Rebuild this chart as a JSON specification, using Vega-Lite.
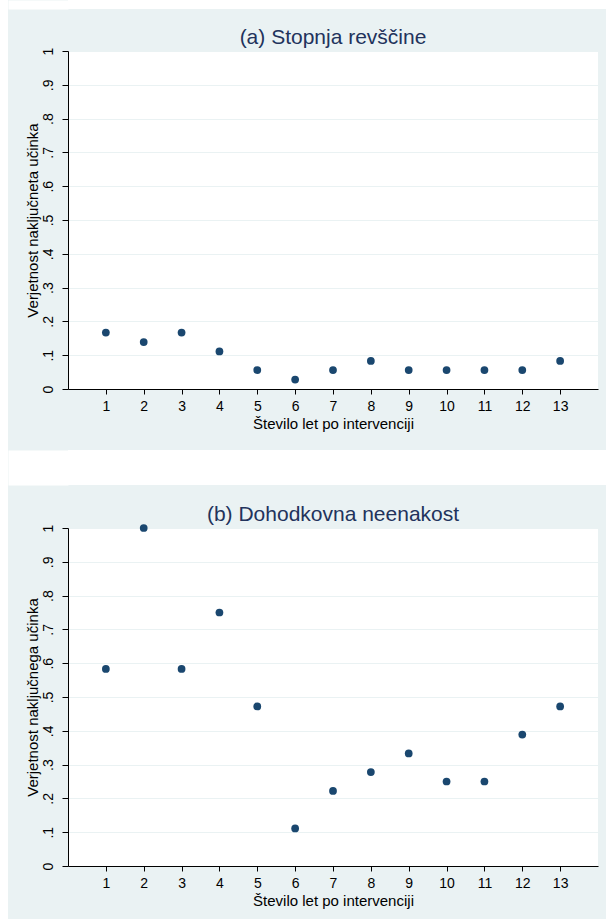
{
  "$schema": "https://vega.github.io/schema/vega-lite/v6.json",
  "background": "#EAF2F3",
  "padding": 0,
  "config": {
    "view": {"stroke": null},
    "concat": {"spacing": 0},
    "font": "Liberation Sans",
    "axis": {
      "labelFont": "Liberation Sans",
      "titleFont": "Liberation Sans",
      "titleFontWeight": "normal",
      "labelColor": "#000000",
      "titleColor": "#000000",
      "domainColor": "#000000",
      "tickColor": "#000000",
      "labelFlush": false,
      "labelOverlap": false
    }
  },
  "hconcat": [
    {
      "width": 8, "height": 930,
      "data": {"values": []},
      "mark": {"type": "point"},
      "encoding": {},
      "view": {"fill": "white", "stroke": null}
    },
    {
      "align": "none",
      "spacing": 0,
      "vconcat": [
        {"width": 538, "height": 9, "data": {"values": []}, "mark": {"type": "point"},
          "encoding": {"y": {"field": "v", "type": "quantitative", "scale": {"domain": [0, 1]}, "axis": {"title": null, "labels": false, "ticks": false, "grid": false, "domain": true, "domainColor": "white", "domainWidth": 60, "offset": 30}}},
          "view": {"fill": "white", "stroke": null}},
        {"width": 538, "height": 18, "data": {"values": []}, "mark": {"type": "point"}, "encoding": {}, "view": {"fill": null, "stroke": null}},
        {
          "width": 530, "height": 338,
          "title": {"text": "(a) Stopnja revščine", "fontSize": 21, "font": "Liberation Sans", "fontWeight": "normal", "color": "#22335c", "anchor": "middle", "frame": "group", "offset": -1},
          "data": {"values": [
            {"leto": 1, "p": 0.167}, {"leto": 2, "p": 0.139}, {"leto": 3, "p": 0.167},
            {"leto": 4, "p": 0.111}, {"leto": 5, "p": 0.056}, {"leto": 6, "p": 0.028},
            {"leto": 7, "p": 0.056}, {"leto": 8, "p": 0.083}, {"leto": 9, "p": 0.056},
            {"leto": 10, "p": 0.056}, {"leto": 11, "p": 0.056}, {"leto": 12, "p": 0.056},
            {"leto": 13, "p": 0.083}
          ]},
          "mark": {"type": "point", "filled": true, "size": 60, "color": "#1A476F", "opacity": 1},
          "encoding": {
            "x": {"field": "leto", "type": "quantitative", "scale": {"domain": [0, 14], "nice": false, "zero": false},
              "axis": {"title": "Število let po intervenciji", "values": [1,2,3,4,5,6,7,8,9,10,11,12,13], "grid": false, "tickSize": 5, "labelFontSize": 14, "labelPadding": 5, "titleFontSize": 15, "titlePadding": 3}},
            "y": {"field": "p", "type": "quantitative", "scale": {"domain": [0, 1], "nice": false},
              "axis": {"title": [" ", "Verjetnost naključneta učinka"], "titleLineHeight": 17, "values": [0,0.1,0.2,0.3,0.4,0.5,0.6,0.7,0.8,0.9,1], "grid": true, "gridColor": "#EAF2F3", "tickSize": 6, "labelAngle": 270, "labelAlign": "center", "labelBaseline": "bottom", "labelPadding": 7, "labelFontSize": 14, "titleFontSize": 15, "titlePadding": 1,
                "labelExpr": "datum.value == 0 ? '0' : datum.value == 1 ? '1' : substring(format(datum.value, '.1f'), 1)"}}
          },
          "view": {"fill": "white", "stroke": null}
        },
        {"width": 538, "height": 19, "data": {"values": []}, "mark": {"type": "point"}, "encoding": {}, "view": {"fill": null, "stroke": null}},
        {"width": 538, "height": 35, "data": {"values": []}, "mark": {"type": "point"},
          "encoding": {"y": {"field": "v", "type": "quantitative", "scale": {"domain": [0, 1]}, "axis": {"title": null, "labels": false, "ticks": false, "grid": false, "domain": true, "domainColor": "white", "domainWidth": 60, "offset": 30}}},
          "view": {"fill": "white", "stroke": null}},
        {"width": 538, "height": 19, "data": {"values": []}, "mark": {"type": "point"}, "encoding": {}, "view": {"fill": null, "stroke": null}},
        {
          "width": 530, "height": 338,
          "title": {"text": "(b) Dohodkovna neenakost", "fontSize": 21, "font": "Liberation Sans", "fontWeight": "normal", "color": "#22335c", "anchor": "middle", "frame": "group", "offset": -1},
          "data": {"values": [
            {"leto": 1, "p": 0.583}, {"leto": 2, "p": 1.0}, {"leto": 3, "p": 0.583},
            {"leto": 4, "p": 0.75}, {"leto": 5, "p": 0.472}, {"leto": 6, "p": 0.111},
            {"leto": 7, "p": 0.222}, {"leto": 8, "p": 0.278}, {"leto": 9, "p": 0.333},
            {"leto": 10, "p": 0.25}, {"leto": 11, "p": 0.25}, {"leto": 12, "p": 0.389},
            {"leto": 13, "p": 0.472}
          ]},
          "mark": {"type": "point", "filled": true, "size": 60, "color": "#1A476F", "opacity": 1},
          "encoding": {
            "x": {"field": "leto", "type": "quantitative", "scale": {"domain": [0, 14], "nice": false, "zero": false},
              "axis": {"title": "Število let po intervenciji", "values": [1,2,3,4,5,6,7,8,9,10,11,12,13], "grid": false, "tickSize": 5, "labelFontSize": 14, "labelPadding": 5, "titleFontSize": 15, "titlePadding": 3}},
            "y": {"field": "p", "type": "quantitative", "scale": {"domain": [0, 1], "nice": false},
              "axis": {"title": [" ", "Verjetnost naključnega učinka"], "titleLineHeight": 17, "values": [0,0.1,0.2,0.3,0.4,0.5,0.6,0.7,0.8,0.9,1], "grid": true, "gridColor": "#EAF2F3", "tickSize": 6, "labelAngle": 270, "labelAlign": "center", "labelBaseline": "bottom", "labelPadding": 7, "labelFontSize": 14, "titleFontSize": 15, "titlePadding": 1,
                "labelExpr": "datum.value == 0 ? '0' : datum.value == 1 ? '1' : substring(format(datum.value, '.1f'), 1)"}}
          },
          "view": {"fill": "white", "stroke": null}
        },
        {"width": 538, "height": 20, "data": {"values": []}, "mark": {"type": "point"}, "encoding": {}, "view": {"fill": null, "stroke": null}}
      ]
    }
  ],
  "align": "none"
}
